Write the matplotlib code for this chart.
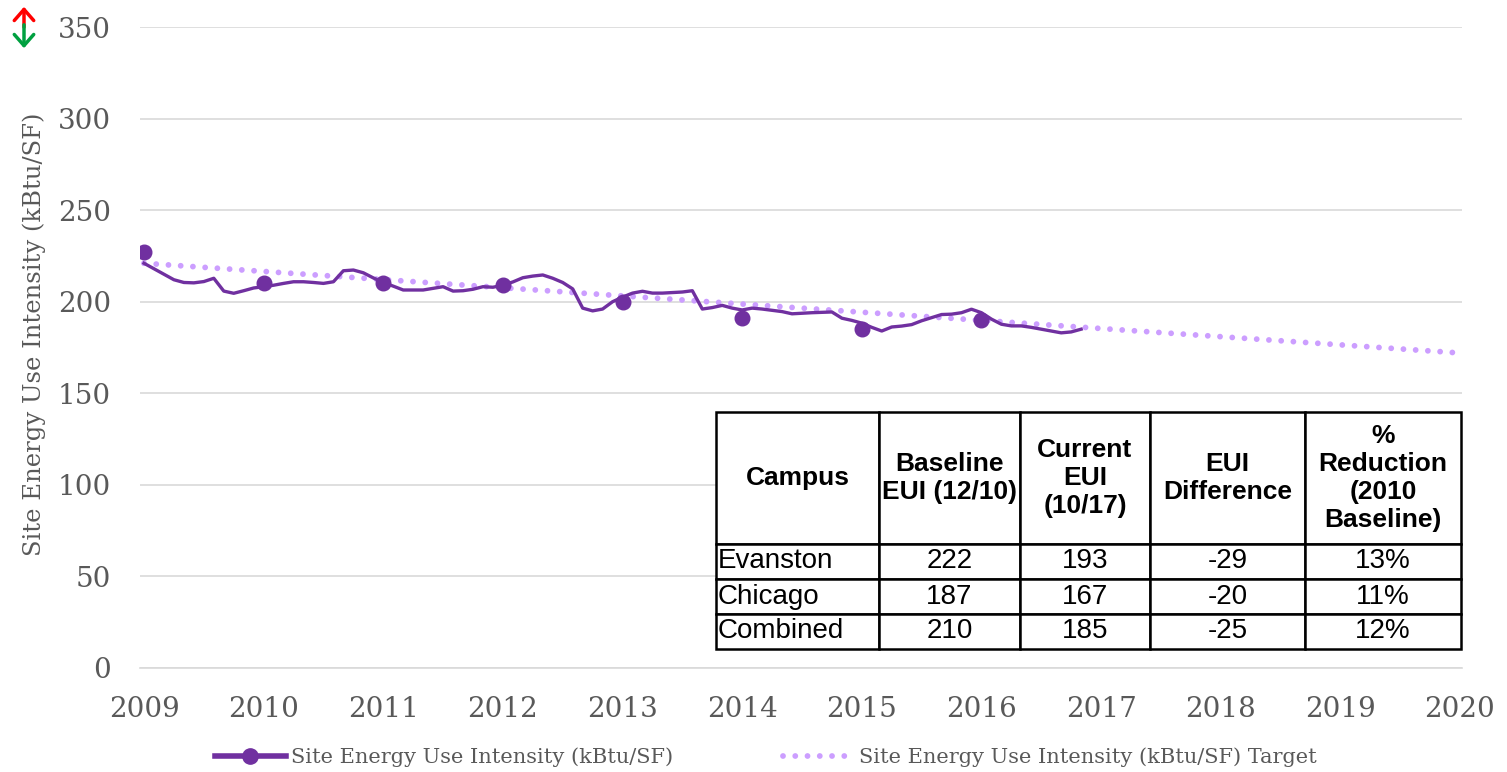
import matplotlib
matplotlib.use("Agg")
import matplotlib.pyplot as plt
import numpy as np
from matplotlib.lines import Line2D

# ---------------- data ----------------
start_year = 2009
eui_monthly = [
    221, 218, 215, 212, 210.5, 210.3, 211, 212.8, 205.8, 204.6, 206, 207.5,
    208.2, 209, 210, 210.9, 210.9, 210.5, 210, 210.9, 216.9, 217.3, 215.8, 213,
    210.5, 208.5, 206.4, 206.4, 206.4, 207.3, 208.2, 205.8, 206, 206.8, 208.2, 207.9,
    209, 210.8, 213.1, 214, 214.6, 212.8, 210.5, 207, 196.5, 195, 196, 200,
    202.5, 204.7, 205.7, 204.7, 204.7, 205, 205.3, 206, 196, 196.8, 198, 196.5,
    195.5, 196.5, 196, 195.3, 194.6, 193.4, 193.7, 194, 194.2, 194.4, 191, 189.8,
    188.3, 186, 184, 186.2, 186.7, 187.5, 189.6, 191.3, 193, 193.2, 194, 195.9,
    194, 190.5, 187.7, 186.8, 186.8, 186, 185, 184, 183, 183.5, 185,
]
annual_years = [2009, 2010, 2011, 2012, 2013, 2014, 2015, 2016]
annual_eui = [227, 210, 210, 209, 200, 191, 185, 190]
target_years = [2009, 2020]
target_eui = [221, 172]

x_ticks = list(range(2009, 2021))
y_ticks = [0, 50, 100, 150, 200, 250, 300, 350]

series_label = "Site Energy Use Intensity (kBtu/SF)"
target_label = "Site Energy Use Intensity (kBtu/SF) Target"

table_cols = ["Campus", "Baseline\nEUI (12/10)", "Current\nEUI\n(10/17)", "EUI\nDifference",
              "%\nReduction\n(2010\nBaseline)"]
table_campus = ["Evanston", "Chicago", "Combined"]
table_baseline = [222, 187, 210]
table_current = [193, 167, 185]
table_diff = [-29, -20, -25]
table_pct = ["13%", "11%", "12%"]

# ---------------- style ----------------
PURPLE = "#7030A0"
LILAC = "#CC9EFF"
GRID = "#D9D9D9"
TXT = "#595959"
SERIF = ["DejaVu Serif"]
SANS = ["Liberation Sans", "DejaVu Sans"]

W, H = 1507, 772
fig = plt.figure(figsize=(W / 100, H / 100), dpi=100)
ax = fig.add_axes([140 / W, (772 - 668) / H, 1322 / W, 641 / H])

x_monthly = start_year + np.arange(len(eui_monthly)) / 12.0

ax.plot(target_years, target_eui, color=LILAC, lw=4.2, dashes=[0.001, 2.1],
        dash_capstyle="round", zorder=2)
ax.plot(x_monthly, eui_monthly, color=PURPLE, lw=2.4, zorder=3)
ax.plot(annual_years, annual_eui, "o", color=PURPLE, ms=10.5, zorder=4)

ax.set_xlim(2009 - 4 / 119.6, 2020 + 2 / 119.6)
ax.set_ylim(0, 350)
ax.set_xticks(x_ticks)
ax.set_yticks(y_ticks)
ax.grid(axis="y", color=GRID, lw=1.2)
ax.set_axisbelow(True)
for s in ["top", "right", "left"]:
    ax.spines[s].set_visible(False)
ax.spines["bottom"].set_color(GRID)
ax.spines["bottom"].set_linewidth(1.2)
ax.tick_params(axis="both", length=0, labelsize=20, labelcolor=TXT)
ax.tick_params(axis="x", pad=20)
ax.tick_params(axis="y", pad=21)
for lab in ax.get_xticklabels() + ax.get_yticklabels():
    lab.set_family(SERIF)
ax.set_ylabel(series_label, fontsize=17.5, color=TXT, family=SERIF)
ax.yaxis.set_label_coords(-0.071, 0.52)

# ---------------- table ----------------
cell_text = [[c, str(b), str(cu), str(d), p] for c, b, cu, d, p in
             zip(table_campus, table_baseline, table_current, table_diff, table_pct)]
colw = np.array([163, 141, 130, 155, 156], dtype=float)
colw = colw / colw.sum()
x0 = (716 - 140) / 1322
x1 = (1461 - 140) / 1322
yb = (668 - 649) / 641
yt = (668 - 412) / 641
tbl = ax.table(cellText=cell_text, colLabels=table_cols, colWidths=list(colw * (x1 - x0)),
               bbox=[x0, yb, x1 - x0, yt - yb], cellLoc="center", zorder=10)
tbl.auto_set_font_size(False)
for (r, c), cell in tbl.get_celld().items():
    cell.set_edgecolor("black")
    cell.set_linewidth(1.8)
    cell.set_facecolor("white")
    cell.set_height(132 if r == 0 else 35)
    t = cell.get_text()
    t.set_family(SANS)
    if r == 0:
        t.set_fontsize(19)
        t.set_fontweight("bold")
        t.set_linespacing(1.2)
    else:
        t.set_fontsize(20)
    if r > 0 and c == 0:
        t.set_ha("left")
        cell.PAD = 0.01
        cell._loc = "left"

# ---------------- legend ----------------
h1 = Line2D([], [], color=PURPLE, lw=4, marker="o", ms=11)
h2 = Line2D([], [], color=LILAC, lw=4.2, dashes=[0.001, 2.1], dash_capstyle="round")
leg = fig.legend([h1, h2], [series_label, target_label], loc="center",
                 bbox_to_anchor=(766 / W, 1 - 757 / H), ncol=2, frameon=False,
                 handlelength=3.4, columnspacing=5.3, handletextpad=0.25,
                 prop={"family": SERIF, "size": 15})
for t in leg.get_texts():
    t.set_color(TXT)

# ---------------- arrows top-left ----------------
fig.patches.append(matplotlib.patches.FancyArrowPatch(
    (24 / W, 1 - 30 / H), (24 / W, 1 - 4 / H), transform=fig.transFigure,
    arrowstyle="->,head_length=8,head_width=7", color="#FF0000", lw=2.5))
fig.patches.append(matplotlib.patches.FancyArrowPatch(
    (24 / W, 1 - 22 / H), (24 / W, 1 - 51 / H), transform=fig.transFigure,
    arrowstyle="->,head_length=8,head_width=7", color="#00A040", lw=2.5))

fig.savefig("out.png", dpi=100)
